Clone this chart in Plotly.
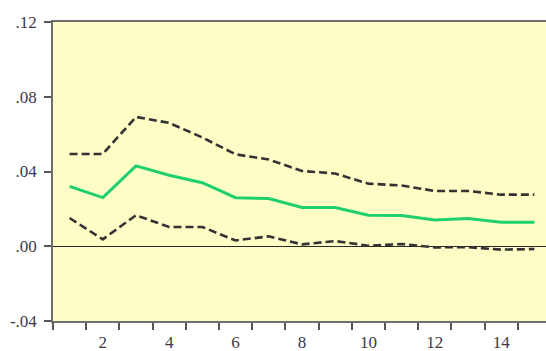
import plotly.graph_objects as go

# Impulse response over 15 periods with +/- 2 S.E. bands
periods = list(range(1, 16))
response = [0.032, 0.026, 0.043, 0.038, 0.034, 0.026, 0.0255, 0.0207, 0.0207,
            0.0166, 0.0164, 0.0140, 0.0148, 0.0128, 0.0128]
upper_band = [0.0494, 0.0494, 0.0692, 0.066, 0.0582, 0.0492, 0.0464, 0.0403,
              0.0389, 0.0335, 0.0325, 0.0296, 0.0296, 0.0276, 0.0276]
lower_band = [0.0151, 0.0037, 0.0166, 0.0103, 0.0103, 0.0031, 0.0053, 0.0010,
              0.0028, 0.0003, 0.0012, -0.0006, -0.0005, -0.0018, -0.0015]

y_ticks = [-0.04, 0.0, 0.04, 0.08, 0.12]
y_tick_text = ["-.04", ".00", ".04", ".08", ".12"]
x_ticks = [2, 4, 6, 8, 10, 12, 14]

band_style = dict(color="#333333", width=2.6, dash="8px,4px")

fig = go.Figure()
fig.add_trace(go.Scatter(x=periods, y=upper_band, mode="lines", line=band_style,
                         showlegend=False, hoverinfo="skip"))
fig.add_trace(go.Scatter(x=periods, y=lower_band, mode="lines", line=band_style,
                         showlegend=False, hoverinfo="skip"))
fig.add_trace(go.Scatter(x=periods, y=response, mode="lines",
                         line=dict(color="#1ecf6e", width=3),
                         showlegend=False))

font = dict(family="Liberation Serif, DejaVu Serif, serif", size=17, color="#3a3a48")

fig.update_layout(
    width=546, height=351,
    margin=dict(l=53, r=0, t=22, b=30),
    paper_bgcolor="white",
    plot_bgcolor="#fffdc6",
    font=font,
    xaxis=dict(
        range=[0.5, 15.35],
        tickmode="array", tickvals=x_ticks, ticks="",
        showgrid=False, zeroline=False,
        showline=True, linecolor="#6e6e6e", linewidth=1.5, mirror=True,
        minor=dict(tick0=0.5, dtick=1, ticks="outside", ticklen=7,
                   tickcolor="#555555", tickwidth=1.5, showgrid=False),
        ticklabelstandoff=5,
    ),
    yaxis=dict(
        range=[-0.04, 0.12],
        tickmode="array", tickvals=y_ticks, ticktext=y_tick_text,
        ticks="outside", ticklen=7, tickcolor="#555555", tickwidth=1.5,
        showgrid=False,
        zeroline=True, zerolinecolor="#2a2a2a", zerolinewidth=1,
        showline=True, linecolor="#6e6e6e", linewidth=1.5,
        ticklabelstandoff=4,
    ),
)

fig.write_html("out.html")
